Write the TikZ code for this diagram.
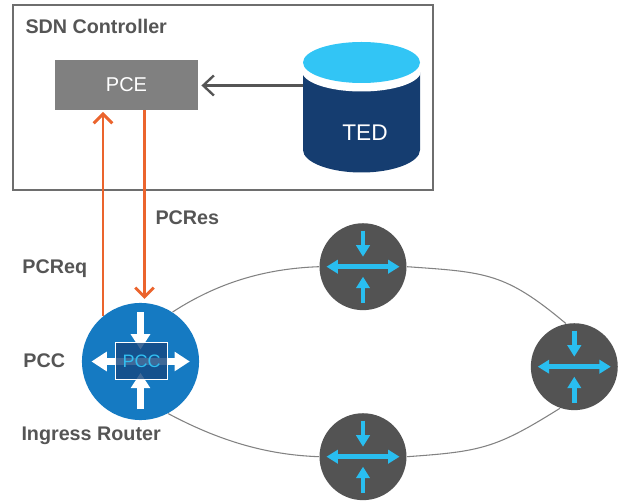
\documentclass[tikz,border=0pt]{standalone}
\usepackage{fontspec}
\setmainfont{Liberation Sans}
\usetikzlibrary{arrows.meta}

\tikzset{every picture/.style={line width=0.75pt}}
\tikzset{
  boldlabel/.style={anchor=west,inner sep=0pt,font=\fontsize{14.8}{17}\selectfont\bfseries,text={rgb, 255:red, 85; green, 85; blue, 85 }},
  routerdark/.style={circle,inner sep=0pt,minimum size=65.2pt,fill={rgb, 255:red, 83; green, 83; blue, 83 }},
  iconarrow/.style={color={rgb, 255:red, 41; green, 190; blue, 240 },line width=3.4pt,-{Triangle[length=8.6pt,width=10pt]}},
  iconarrowdouble/.style={iconarrow,{Triangle[length=8.6pt,width=10pt]}-{Triangle[length=8.6pt,width=10pt]}},
  pccarrow/.style={color=white,line width=5.2pt,-{Triangle[length=11.5pt,width=14pt]}},
  pathcall/.style={color={rgb, 255:red, 235; green, 100; blue, 45 },line width=2.2pt,-{Straight Barb[length=7pt,width=14pt]}},
  ringlink/.style={color={rgb, 255:red, 130; green, 130; blue, 130 },line width=0.8pt}
}

\begin{document}
\begin{tikzpicture}[x=0.75pt,y=0.75pt,yscale=-1,xscale=1]
\useasboundingbox (0,0) rectangle (622,502);

%Shape: Rectangle
\draw [color={rgb, 255:red, 110; green, 110; blue, 110 },line width=1pt] (13,5) -- (433,5) -- (433,190) -- (13,190) -- cycle ;
\node [boldlabel] (sdnlabel) at (25,26) {SDN Controller};

%Shape: Rectangle
\node [fill={rgb, 255:red, 128; green, 128; blue, 128 },minimum width=107.25pt,minimum height=37.5pt,inner sep=0pt,text=white,font=\fontsize{15}{18}\selectfont] (pce) at (126.5,85) {PCE};

%Shape: Can
\draw [draw opacity=0][fill={rgb, 255:red, 21; green, 61; blue, 112 }] (303,71) -- (420,71) -- (420,150) .. controls (420,162) and (394,172.5) .. (361.5,172.5) .. controls (329,172.5) and (303,162) .. (303,150) -- cycle ;
\draw [draw opacity=0][fill=white] (361.5,71) ellipse (59.5 and 20.5) ;
\draw [draw opacity=0][fill={rgb, 255:red, 50; green, 197; blue, 245 }] (361.5,62.5) ellipse (58.5 and 20.5) ;
\node [text=white,font=\fontsize{17}{20}\selectfont] (ted) at (365,133) {TED};
\coordinate (tedport) at (303,85.5);

%Straight Lines
\draw [color={rgb, 255:red, 85; green, 85; blue, 85 },line width=1.8pt,-{Straight Barb[length=8pt,width=15pt]},shorten >=2.2pt] (tedport) -- (pce.east |- tedport) ;

%Shape: Circle
\node [circle,inner sep=0pt,minimum size=87.8pt,fill={rgb, 255:red, 21; green, 122; blue, 194 }] (pcc) at (140.5,361.5) {};
\node [routerdark] (rtop) at (363,266.7) {};
\node [routerdark] (rright) at (574.3,366.7) {};
\node [routerdark] (rbottom) at (363,456.7) {};

%Curve Lines
\draw [ringlink] (pcc.57) to[out=-33,in=178,looseness=0.9] (rtop.west) ;
\draw [ringlink] (rtop.east) to[out=4,in=-140,looseness=1.2] (rright.101) ;
\draw [ringlink] (rbottom.east) to[out=-4,in=148,looseness=1.2] (rright.251) ;
\draw [ringlink] (pcc.-62) to[out=28,in=182,looseness=0.9] (rbottom.west) ;

%Straight Lines
\coordinate (reqstart) at (103,316);
\coordinate (reqend) at (103,112);
\coordinate (resstart) at (144.5,110);
\coordinate (resend) at (144.5,299);
\draw [pathcall] (reqstart) -- (reqend) ;
\draw [pathcall] (resstart) -- (resend) ;

%Router arrows
\foreach \rname in {rtop,rright,rbottom} {
  \draw [iconarrow] ([yshift=-27pt]\rname.center) -- ([yshift=-7.5pt]\rname.center) ;
  \draw [iconarrow] ([yshift=27pt]\rname.center) -- ([yshift=7.5pt]\rname.center) ;
  \draw [iconarrowdouble] ([xshift=-27.4pt]\rname.center) -- ([xshift=27.4pt]\rname.center) ;
}

%PCC arrows
\draw [pccarrow] ([yshift=-37pt]pcc.center) -- ([yshift=-9pt]pcc.center) ;
\draw [pccarrow] ([yshift=36pt]pcc.center) -- ([yshift=8.5pt]pcc.center) ;
\draw [pccarrow] (pcc.center) -- ([xshift=-36.8pt]pcc.center) ;
\draw [pccarrow] (pcc.center) -- ([xshift=37pt]pcc.center) ;

%Shape: Rectangle
\node [draw=white,line width=0.75pt,fill={rgb, 255:red, 21; green, 72; blue, 130 },fill opacity=0.82,text opacity=1,minimum width=39pt,minimum height=27.5pt,inner sep=0pt,text={rgb, 255:red, 50; green, 190; blue, 240 },font=\fontsize{13.5}{16}\selectfont] (pccbox) at (141.7,361) {PCC};

%Labels
\node [boldlabel] (pcreslabel) at (155,218) {PCRes};
\node [boldlabel] (pcreqlabel) at (22,268.5) {PCReq};
\node [boldlabel] (pcclabel) at (23,360.5) {PCC};
\node [boldlabel] (ingresslabel) at (21,436) {Ingress Router};
\end{tikzpicture}
\end{document}
